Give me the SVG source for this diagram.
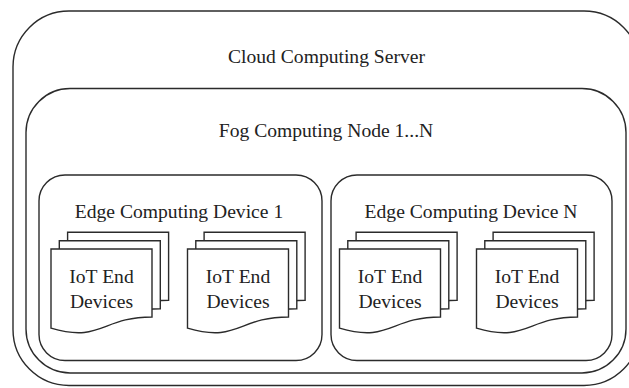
<svg xmlns="http://www.w3.org/2000/svg" xmlns:xlink="http://www.w3.org/1999/xlink" width="629" height="388" viewBox="0 0 629 388">
  <style>
    .box { fill: #ffffff; stroke: #2b2b2b; stroke-width: 1.4; }
    .doc { fill: #ffffff; stroke: #2b2b2b; stroke-width: 1.4; stroke-linejoin: miter; }
    .lbl { font-family: "Liberation Serif", "Times New Roman", serif; font-size: 19.6px; fill: #222222; text-anchor: middle; }
  </style>
  <defs>
    <!-- document shape, origin at top-left, w=101, h=85 -->
    <path id="docShape" d="M0,0 H101 V68 C50.5,68 50.5,94 0,79.2 Z"/>
    <g id="docStack">
      <use xlink:href="#docShape" class="doc" x="16.6" y="-16.7"/>
      <use xlink:href="#docShape" class="doc" x="8.3" y="-8.3"/>
      <use xlink:href="#docShape" class="doc" x="0" y="0"/>
    </g>
  </defs>

  <rect width="629" height="388" fill="#ffffff"/>

  <g id="cloud-server">
    <rect class="box" x="13" y="11" width="627" height="374.5" rx="56" ry="56"/>
    <text class="lbl" x="326.5" y="63.3">Cloud Computing Server</text>
  </g>

  <g id="fog-node">
    <rect class="box" x="26" y="88.5" width="600" height="284.5" rx="44" ry="44"/>
    <text class="lbl" x="326" y="136.7">Fog Computing Node 1...N</text>
  </g>

  <g id="edge-device-1">
    <rect class="box" x="39" y="175" width="283" height="185.5" rx="26" ry="26"/>
    <text class="lbl" x="179" y="218">Edge Computing Device 1</text>
  </g>

  <g id="edge-device-n">
    <rect class="box" x="331" y="175" width="281" height="185.5" rx="26" ry="26"/>
    <text class="lbl" x="471" y="218">Edge Computing Device N</text>
  </g>

  <g id="iot-devices-1a">
    <use xlink:href="#docStack" x="51" y="249"/>
    <text class="lbl" x="101.5" y="283.3">IoT End</text>
    <text class="lbl" x="101.5" y="308.3">Devices</text>
  </g>

  <g id="iot-devices-1b">
    <use xlink:href="#docStack" x="187.5" y="249"/>
    <text class="lbl" x="238" y="283.3">IoT End</text>
    <text class="lbl" x="238" y="308.3">Devices</text>
  </g>

  <g id="iot-devices-na">
    <use xlink:href="#docStack" x="339.5" y="249"/>
    <text class="lbl" x="390" y="283.3">IoT End</text>
    <text class="lbl" x="390" y="308.3">Devices</text>
  </g>

  <g id="iot-devices-nb">
    <use xlink:href="#docStack" x="476.5" y="249"/>
    <text class="lbl" x="527" y="283.3">IoT End</text>
    <text class="lbl" x="527" y="308.3">Devices</text>
  </g>

  <g id="connectors"/>
</svg>
